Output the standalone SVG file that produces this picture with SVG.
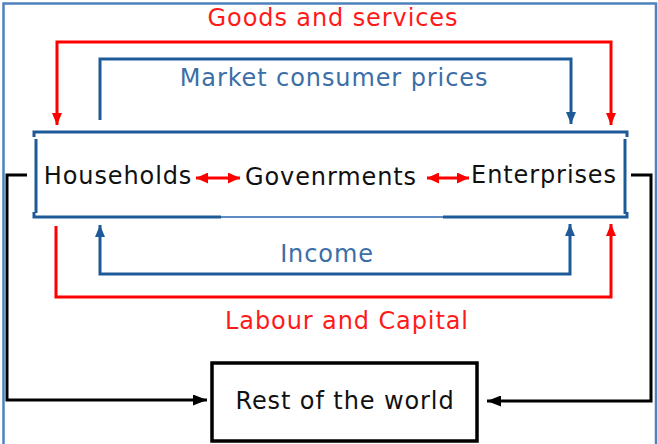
<svg xmlns="http://www.w3.org/2000/svg" width="658" height="444" viewBox="0 0 658 444">
<style>
text{font-family:"DejaVu Sans","Verdana",sans-serif;font-size:24px;letter-spacing:0.9px;text-anchor:middle}
.red{fill:#ff1a1a}
.blue{fill:#3c6ea8}
.blk{fill:#111}
.lr{fill:none;stroke:#ff0000;stroke-width:3}
.lb{fill:none;stroke:#1f5a98;stroke-width:3}
.lk{fill:none;stroke:#000;stroke-width:3}
</style>
<defs>
<marker id="ar" markerUnits="userSpaceOnUse" viewBox="0 0 12 10" refX="12" refY="5" markerWidth="12" markerHeight="10" orient="auto-start-reverse"><path d="M0,0 L12,5 L0,10 Z" fill="#ff0000"/></marker>
<marker id="ab" markerUnits="userSpaceOnUse" viewBox="0 0 12 10" refX="12" refY="5" markerWidth="12" markerHeight="10" orient="auto-start-reverse"><path d="M0,0 L12,5 L0,10 Z" fill="#1f5a98"/></marker>
<marker id="ak" markerUnits="userSpaceOnUse" viewBox="0 0 14 11" refX="14" refY="5.5" markerWidth="14" markerHeight="11" orient="auto-start-reverse"><path d="M0,0 L14,5.5 L0,11 Z" fill="#000"/></marker>
<marker id="ad" markerUnits="userSpaceOnUse" viewBox="0 0 12 11" refX="12" refY="5.5" markerWidth="12" markerHeight="11" orient="auto-start-reverse"><path d="M0,0 L12,5.5 L0,11 Z" fill="#ff0000"/></marker>
</defs>
<rect width="658" height="444" fill="#fff"/>
<rect x="3.5" y="3.5" width="652.5" height="460" fill="none" stroke="#4f81bd" stroke-width="2.5"/>
<g id="connectors">
<path class="lr" d="M57,125 V42 H611 V125" marker-start="url(#ar)" marker-end="url(#ar)"/>
<path class="lb" d="M100,120 V59 H571 V124" marker-end="url(#ab)"/>
<path class="lb" d="M100,225 V274 H570 V224" marker-start="url(#ab)" marker-end="url(#ab)"/>
<path class="lr" d="M56,226 V297 H611 V224" marker-end="url(#ar)"/>
<path class="lk" d="M27,175 H7 V400 H207" marker-end="url(#ak)"/>
<path class="lk" d="M631,175 H651 V401 H487" marker-end="url(#ak)"/>
<path class="lr" d="M196,178 H240" stroke-width="4" marker-start="url(#ad)" marker-end="url(#ad)"/>
<path class="lr" d="M427,178 H469" stroke-width="4" marker-start="url(#ad)" marker-end="url(#ad)"/>
</g>
<g id="labels">
<text class="red" x="333" y="26">Goods and services</text>
<text class="blue" x="334" y="86">Market consumer prices</text>
<text class="blue" x="327" y="262">Income</text>
<text class="red" x="347" y="329">Labour and Capital</text>
</g>
<g id="sectors">
<path class="lb" d="M34,137 V132 H627 V137"/>
<path class="lb" d="M36,139 V213"/>
<path class="lb" d="M625,139 V214"/>
<path class="lb" d="M34,212 V217 H221"/>
<path d="M221,217 H443" stroke="#5d8cc4" stroke-width="2" fill="none"/>
<path class="lb" d="M443,217 H627 V212"/>
</g>
<g id="households"><text class="blk" x="118" y="184">Households</text></g>
<g id="governments"><text class="blk" x="331" y="185">Govenrments</text></g>
<g id="enterprises"><text class="blk" x="544" y="183">Enterprises</text></g>
<g id="rest-of-world">
<rect x="212" y="363" width="265" height="78" fill="#fff" stroke="#000" stroke-width="3.5"/>
<text class="blk" x="345" y="409">Rest of the world</text>
</g>
</svg>
